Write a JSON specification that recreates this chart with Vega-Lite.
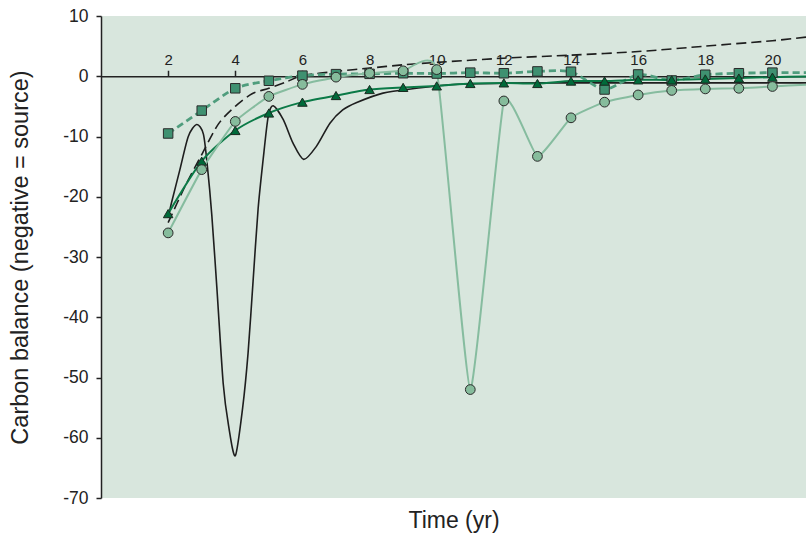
{
  "$schema": "https://vega.github.io/schema/vega-lite/v6.json",
  "width": 705,
  "height": 482,
  "autosize": "none",
  "padding": {"left": 101, "top": 16, "right": 0, "bottom": 48},
  "background": "white",
  "config": {
    "view": {"fill": "#d8e6dd", "stroke": null},
    "font": "Liberation Sans"
  },
  "datasets": {
    "curves": [
      {"s": "dash", "t": 2, "v": -24.3}, {"s": "dash", "t": 2.5, "v": -18.3}, {"s": "dash", "t": 3, "v": -13}, {"s": "dash", "t": 3.5, "v": -7.9}, {"s": "dash", "t": 4, "v": -5.0}, {"s": "dash", "t": 4.5, "v": -2.9}, {"s": "dash", "t": 5, "v": -2.0}, {"s": "dash", "t": 5.5, "v": -1.0}, {"s": "dash", "t": 6, "v": 0.1}, {"s": "dash", "t": 7, "v": 0.8}, {"s": "dash", "t": 8, "v": 1.35}, {"s": "dash", "t": 9, "v": 1.9}, {"s": "dash", "t": 10, "v": 2.3}, {"s": "dash", "t": 12, "v": 3.0}, {"s": "dash", "t": 14, "v": 3.5}, {"s": "dash", "t": 16, "v": 4.1}, {"s": "dash", "t": 18, "v": 5.0}, {"s": "dash", "t": 20, "v": 5.9}, {"s": "dash", "t": 21, "v": 6.5},
      {"s": "solid", "t": 2.0, "v": -23.5}, {"s": "solid", "t": 2.1, "v": -21}, {"s": "solid", "t": 2.35, "v": -15.5}, {"s": "solid", "t": 2.6, "v": -10}, {"s": "solid", "t": 2.85, "v": -8.0}, {"s": "solid", "t": 3.05, "v": -9.6}, {"s": "solid", "t": 3.17, "v": -15}, {"s": "solid", "t": 3.3, "v": -23}, {"s": "solid", "t": 3.45, "v": -35}, {"s": "solid", "t": 3.64, "v": -51}, {"s": "solid", "t": 3.8, "v": -58}, {"s": "solid", "t": 4.0, "v": -63}, {"s": "solid", "t": 4.22, "v": -55}, {"s": "solid", "t": 4.38, "v": -46}, {"s": "solid", "t": 4.53, "v": -34}, {"s": "solid", "t": 4.68, "v": -22}, {"s": "solid", "t": 4.83, "v": -13.8}, {"s": "solid", "t": 4.98, "v": -6.7}, {"s": "solid", "t": 5.13, "v": -4.9}, {"s": "solid", "t": 5.43, "v": -7.2}, {"s": "solid", "t": 5.72, "v": -11.1}, {"s": "solid", "t": 6.04, "v": -13.8}, {"s": "solid", "t": 6.42, "v": -11.6}, {"s": "solid", "t": 6.82, "v": -7.8}, {"s": "solid", "t": 7.2, "v": -5.6}, {"s": "solid", "t": 7.6, "v": -4.4}, {"s": "solid", "t": 8.4, "v": -2.8}, {"s": "solid", "t": 9.4, "v": -2.0}, {"s": "solid", "t": 10.4, "v": -1.4}, {"s": "solid", "t": 12, "v": -1.15}, {"s": "solid", "t": 14, "v": -1.1}, {"s": "solid", "t": 17, "v": -1.1}, {"s": "solid", "t": 21, "v": -1.1}
    ],
    "series": [
      {"s": "sq", "t": 2, "v": -9.5}, {"s": "sq", "t": 3, "v": -5.7}, {"s": "sq", "t": 4, "v": -2.0}, {"s": "sq", "t": 5, "v": -0.75}, {"s": "sq", "t": 6, "v": 0.1}, {"s": "sq", "t": 7, "v": 0.35}, {"s": "sq", "t": 8, "v": 0.4}, {"s": "sq", "t": 9, "v": 0.5}, {"s": "sq", "t": 10, "v": 0.45}, {"s": "sq", "t": 11, "v": 0.6}, {"s": "sq", "t": 12, "v": 0.5}, {"s": "sq", "t": 13, "v": 0.8}, {"s": "sq", "t": 14, "v": 0.75}, {"s": "sq", "t": 15, "v": -2.2}, {"s": "sq", "t": 16, "v": 0.3}, {"s": "sq", "t": 17, "v": -0.7}, {"s": "sq", "t": 18, "v": 0.25}, {"s": "sq", "t": 19, "v": 0.5}, {"s": "sq", "t": 20, "v": 0.6}, {"s": "sq", "t": 21, "v": 0.6},
      {"s": "ci", "t": 2, "v": -26}, {"s": "ci", "t": 3, "v": -15.5}, {"s": "ci", "t": 4, "v": -7.5}, {"s": "ci", "t": 5, "v": -3.35}, {"s": "ci", "t": 6, "v": -1.35}, {"s": "ci", "t": 7, "v": -0.15}, {"s": "ci", "t": 8, "v": 0.5}, {"s": "ci", "t": 9, "v": 0.9}, {"s": "ci", "t": 10, "v": 1.1}, {"s": "ci", "t": 11, "v": -52}, {"s": "ci", "t": 12, "v": -4.1}, {"s": "ci", "t": 13, "v": -13.3}, {"s": "ci", "t": 14, "v": -6.9}, {"s": "ci", "t": 15, "v": -4.3}, {"s": "ci", "t": 16, "v": -3.1}, {"s": "ci", "t": 17, "v": -2.35}, {"s": "ci", "t": 18, "v": -2.1}, {"s": "ci", "t": 19, "v": -2.0}, {"s": "ci", "t": 20, "v": -1.7}, {"s": "ci", "t": 21, "v": -1.4},
      {"s": "tr", "t": 2, "v": -22.8}, {"s": "tr", "t": 3, "v": -14.1}, {"s": "tr", "t": 4, "v": -9.0}, {"s": "tr", "t": 5, "v": -6.1}, {"s": "tr", "t": 6, "v": -4.3}, {"s": "tr", "t": 7, "v": -3.2}, {"s": "tr", "t": 8, "v": -2.2}, {"s": "tr", "t": 9, "v": -1.85}, {"s": "tr", "t": 10, "v": -1.6}, {"s": "tr", "t": 11, "v": -1.2}, {"s": "tr", "t": 12, "v": -1.1}, {"s": "tr", "t": 13, "v": -1.2}, {"s": "tr", "t": 14, "v": -0.8}, {"s": "tr", "t": 15, "v": -0.8}, {"s": "tr", "t": 16, "v": -0.6}, {"s": "tr", "t": 17, "v": -0.6}, {"s": "tr", "t": 18, "v": -0.45}, {"s": "tr", "t": 19, "v": -0.3}, {"s": "tr", "t": 20, "v": -0.15}, {"s": "tr", "t": 21, "v": -0.05}
    ]
  },
  "layer": [
    {
      "data": {"name": "curves"},
      "transform": [{"filter": "datum.s === 'dash'"}],
      "mark": {"type": "line", "interpolate": "cardinal", "tension": 0.2, "clip": true, "color": "#1e1e1e", "strokeWidth": 1.6, "strokeDash": [10, 5]},
      "encoding": {
        "x": {"field": "t", "type": "quantitative", "scale": {"domain": [0, 21], "nice": false, "zero": false},
          "axis": {"orient": "top", "offset": -60.25, "values": [2, 4, 6, 8, 10, 12, 14, 16, 18, 20], "title": null, "grid": false,
            "domainColor": "#222", "domainWidth": 1.5, "tickColor": "#222", "tickWidth": 1.5, "tickSize": 6,
            "labelFontSize": 15, "labelColor": "#222", "labelPadding": 3, "labelFlush": false}},
        "y": {"field": "v", "type": "quantitative", "scale": {"domain": [-70, 10], "nice": false, "zero": false},
          "axis": {"values": [-70, -60, -50, -40, -30, -20, -10, 0, 10], "grid": false, "title": "Carbon balance (negative = source)",
            "labelExpr": "replace(datum.label, '\u2212', '-')",
            "titleFontSize": 23.5, "titleFontWeight": "normal", "titleColor": "#222", "titlePadding": 30,
            "domainColor": "#222", "domainWidth": 1.5, "tickColor": "#222", "tickWidth": 1.5, "tickSize": 5,
            "labelFontSize": 17.5, "labelColor": "#222", "labelPadding": 8}}
      }
    },
    {
      "data": {"name": "curves"},
      "transform": [{"filter": "datum.s === 'solid'"}],
      "mark": {"type": "line", "interpolate": "cardinal", "tension": 0.2, "clip": true, "color": "#1e1e1e", "strokeWidth": 1.6},
      "encoding": {
        "x": {"field": "t", "type": "quantitative",
          "axis": {"orient": "bottom", "title": "Time (yr)", "titleFontSize": 23, "titleFontWeight": "normal", "titleColor": "#222", "titlePadding": 11,
            "labels": false, "ticks": false, "domain": false, "grid": false}},
        "y": {"field": "v", "type": "quantitative"}
      }
    },
    {
      "data": {"name": "series"},
      "transform": [{"filter": "datum.s === 'sq'"}],
      "mark": {"type": "line", "interpolate": "cardinal", "tension": 0.3, "clip": true, "color": "#4f9d7d", "strokeWidth": 2.8, "strokeDash": [7, 4]},
      "encoding": {"x": {"field": "t", "type": "quantitative", "axis": null}, "y": {"field": "v", "type": "quantitative"}}
    },
    {
      "data": {"name": "series"},
      "transform": [{"filter": "datum.s === 'tr'"}],
      "mark": {"type": "line", "interpolate": "cardinal", "tension": 0.3, "clip": true, "color": "#0b7a47", "strokeWidth": 2},
      "encoding": {"x": {"field": "t", "type": "quantitative", "axis": null}, "y": {"field": "v", "type": "quantitative"}}
    },
    {
      "data": {"name": "series"},
      "transform": [{"filter": "datum.s === 'ci'"}],
      "mark": {"type": "line", "interpolate": "cardinal", "tension": 0.6, "clip": true, "color": "#86bc9f", "strokeWidth": 2},
      "encoding": {"x": {"field": "t", "type": "quantitative", "axis": null}, "y": {"field": "v", "type": "quantitative"}}
    },
    {
      "data": {"name": "series"},
      "transform": [{"filter": "datum.s === 'sq' && datum.t <= 20"}],
      "mark": {"type": "point", "shape": "square", "filled": true, "size": 90, "fill": "#3f9171", "stroke": "#2a2a2a", "strokeWidth": 1, "opacity": 1},
      "encoding": {"x": {"field": "t", "type": "quantitative", "axis": null}, "y": {"field": "v", "type": "quantitative"}}
    },
    {
      "data": {"name": "series"},
      "transform": [{"filter": "datum.s === 'tr' && datum.t <= 20"}],
      "mark": {"type": "point", "shape": "triangle-up", "filled": true, "size": 90, "fill": "#006a3a", "stroke": "#1a2a20", "strokeWidth": 1, "opacity": 1},
      "encoding": {"x": {"field": "t", "type": "quantitative", "axis": null}, "y": {"field": "v", "type": "quantitative"}}
    },
    {
      "data": {"name": "series"},
      "transform": [{"filter": "datum.s === 'ci' && datum.t <= 20"}],
      "mark": {"type": "point", "shape": "circle", "filled": true, "size": 95, "fill": "#86bc9c", "stroke": "#2a2a2a", "strokeWidth": 1, "opacity": 1},
      "encoding": {"x": {"field": "t", "type": "quantitative", "axis": null}, "y": {"field": "v", "type": "quantitative"}}
    }
  ],
  "resolve": {"axis": {"x": "independent"}}
}
